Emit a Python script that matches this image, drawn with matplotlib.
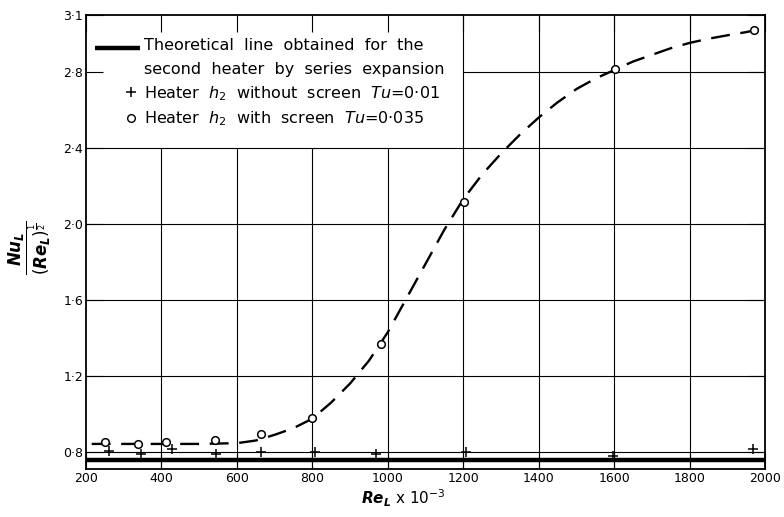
import matplotlib
matplotlib.use("Agg")
import matplotlib.pyplot as plt
from matplotlib.lines import Line2D
from matplotlib.legend_handler import HandlerLine2D

plt.rcParams["font.family"] = ["DejaVu Sans"]
plt.rcParams["mathtext.fontset"] = "custom"
plt.rcParams["mathtext.rm"] = "DejaVu Sans"
plt.rcParams["mathtext.it"] = "DejaVu Sans:italic"
plt.rcParams["mathtext.bf"] = "DejaVu Sans:bold"
plt.rcParams["mathtext.bfit"] = "DejaVu Sans:italic:bold"

# ---- data ----
# theoretical line (series expansion, second heater)
theory_x = [200, 2000]
theory_y = [0.76, 0.76]

# heater h2 without screen, Tu = 0.01
plus_x = [262, 345, 427, 544, 664, 807, 968, 1207, 1596, 1967]
plus_y = [0.805, 0.79, 0.814, 0.79, 0.80, 0.80, 0.788, 0.797, 0.78, 0.815]

# heater h2 with screen, Tu = 0.035
circ_x = [250, 337, 412, 542, 664, 800, 983, 1201, 1603, 1970]
circ_y = [0.853, 0.844, 0.853, 0.862, 0.893, 0.98, 1.37, 2.115, 2.815, 3.02]

# faired curve through the screened-heater points
fair_x = [215, 300, 400, 500, 600, 650, 700, 750, 800, 850, 900, 950, 1000,
          1050, 1100, 1150, 1200, 1250, 1300, 1350, 1400, 1450, 1500, 1550,
          1600, 1650, 1700, 1750, 1800, 1850, 1900, 1950, 2000]
fair_y = [0.842, 0.842, 0.842, 0.842, 0.846, 0.86, 0.89, 0.925, 0.975, 1.06,
          1.16, 1.28, 1.43, 1.61, 1.79, 1.97, 2.13, 2.26, 2.37, 2.47, 2.56,
          2.64, 2.71, 2.765, 2.81, 2.855, 2.89, 2.925, 2.953, 2.975, 2.993,
          3.01, 3.03]

x_ticks = [200, 400, 600, 800, 1000, 1200, 1400, 1600, 1800, 2000]
x_tick_labels = ["200", "400", "600", "800", "1000", "1200", "1400", "1600", "1800", "2000"]
y_ticks = [0.8, 1.2, 1.6, 2.0, 2.4, 2.8, 3.1]
y_tick_labels = ["0·8", "1·2", "1·6", "2·0", "2·4", "2·8", "3·1"]

# ---- figure ----
fig = plt.figure(figsize=(7.84, 5.17), dpi=100)
ax = fig.add_axes([86 / 784, 48 / 517, 679 / 784, 454 / 517])
ax.set_xlim(200, 2000)
ax.set_ylim(0.71, 3.1)

# grid, leaving the legend cell (200-1200, 2.4-3.1) clear
grid_kw = dict(color="black", linewidth=0.8, zorder=1)
for xv in x_ticks[1:-1]:
    top = 2.4 if xv < 1200 else 3.1
    ax.vlines(xv, 0.71, top, **grid_kw)
for yv in y_ticks[:-1]:
    left = 1200 if yv > 2.4 else 200
    ax.hlines(yv, left, 2000, **grid_kw)

ax.plot(theory_x, theory_y, color="black", linewidth=3.2, solid_capstyle="butt",
        zorder=3)
ax.plot(fair_x, fair_y, color="black", linewidth=1.7, dashes=(8, 4.5), zorder=3)
ax.plot(plus_x, plus_y, linestyle="none", marker="+", markersize=7,
        markeredgewidth=1.1, color="black", zorder=4)
ax.plot(circ_x, circ_y, linestyle="none", marker="o", markersize=5.5,
        markerfacecolor="white", markeredgecolor="black", markeredgewidth=1.1,
        zorder=5)

ax.set_xticks(x_ticks)
ax.set_xticklabels(x_tick_labels)
ax.set_yticks(y_ticks)
ax.set_yticklabels(y_tick_labels)
ax.tick_params(direction="in", length=12, width=0.8, top=True, right=True,
               labelsize=9, pad=2)
for s in ax.spines.values():
    s.set_linewidth(1.3)


class MarkerAtRight(HandlerLine2D):
    """Single legend marker placed towards the right end of the handle box."""

    def get_xdata(self, legend, xdescent, ydescent, width, height, fontsize):
        m = -xdescent + 0.82 * width
        return [m - 1, m + 1], [m]


class LineOnFirstRow(HandlerLine2D):
    """Legend line raised to sit beside the first row of a two-row label."""

    def create_artists(self, legend, orig_handle, xdescent, ydescent, width,
                       height, fontsize, trans):
        artists = super().create_artists(legend, orig_handle, xdescent,
                                         ydescent, width, height, fontsize,
                                         trans)
        for a in artists:
            a.set_ydata(a.get_ydata() + 0.63 * fontsize)
        return artists


h_theory = Line2D([], [], color="black", linewidth=3.2, solid_capstyle="butt")
h_plus = Line2D([], [], linestyle="none", marker="+", markersize=7,
                markeredgewidth=1.1, color="black")
h_circ = Line2D([], [], linestyle="none", marker="o", markersize=5.5,
                markerfacecolor="white", markeredgecolor="black",
                markeredgewidth=1.0)
labels = [
    "Theoretical  line  obtained  for  the\nsecond  heater  by  series  expansion",
    r"Heater  $h_2$  without  screen  $Tu$=0·01",
    r"Heater  $h_2$  with  screen  $Tu$=0·035",
]
leg = ax.legend([h_theory, h_plus, h_circ], labels, loc="upper left",
                bbox_to_anchor=(0.013, 0.950), borderaxespad=0, borderpad=0,
                frameon=False, fontsize=11.5, handlelength=2.8,
                handletextpad=0.3, labelspacing=0.45,
                handler_map={h_theory: LineOnFirstRow(),
                             h_plus: MarkerAtRight(),
                             h_circ: MarkerAtRight()})
for t in leg.get_texts():
    t.set_linespacing(1.75)

fig.text(30 / 784, 1 - 248 / 517,
         r"$\dfrac{\mathbfit{Nu}_{\mathbfit{L}}}{(\mathbfit{Re}_{\mathbfit{L}})^{\frac{1}{2}}}$",
         rotation=90, ha="center", va="center", fontsize=12)
fig.text(403 / 784, 1 - 498 / 517,
         r"$\mathbfit{Re}_{\mathbfit{L}}$ x 10$^{-3}$",
         ha="center", va="center", fontsize=11)

fig.savefig("out.png", dpi=100)
